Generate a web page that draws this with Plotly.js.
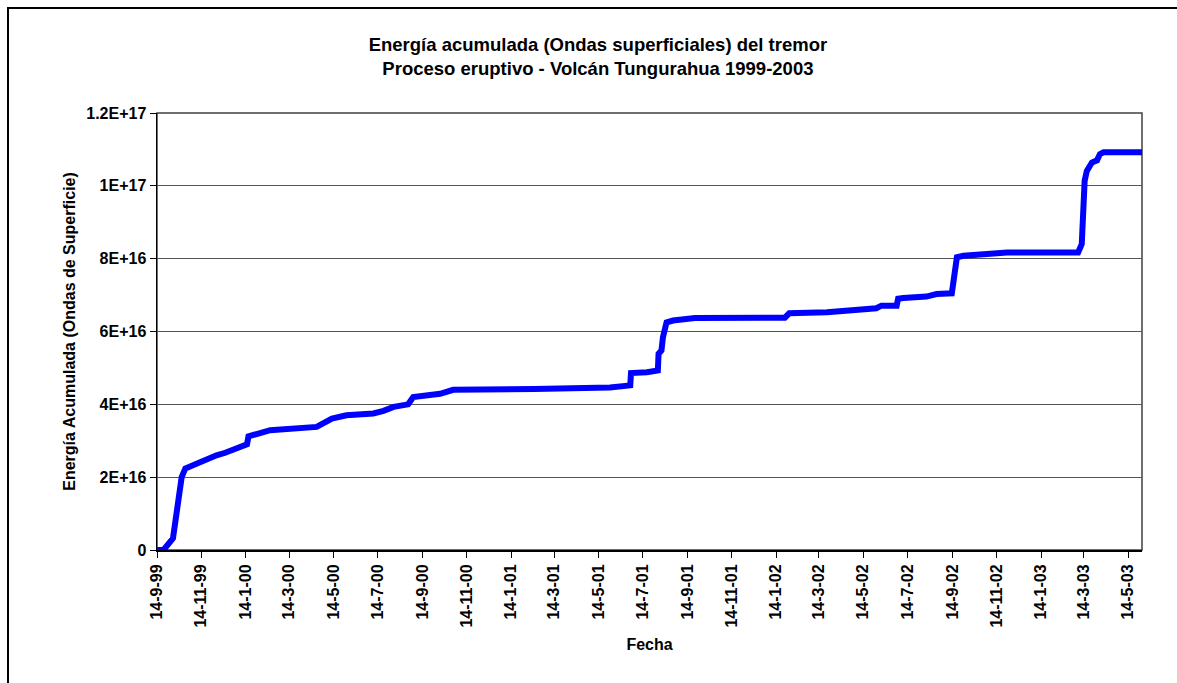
<!DOCTYPE html>
<html>
<head>
<meta charset="utf-8">
<script src="https://cdn.plot.ly/plotly-3.0.1.min.js"></script>
<style>
html,body{margin:0;padding:0;background:#fff;overflow:hidden;}
#wrap{position:relative;width:1177px;height:683px;overflow:hidden;}
#chart{width:1177px;height:683px;}
.fl{position:absolute;background:#000;pointer-events:none;}
#ftop{left:7px;top:7px;width:1170px;height:2px;}
#fleft{left:7px;top:7px;width:2px;height:676px;}
</style>
</head>
<body>
<div id="wrap"><div id="chart"></div><div class="fl" id="ftop"></div><div class="fl" id="fleft"></div></div>
<script>
// Fecha (date) of each reading
const fechas = [
  '1999-09-14','1999-09-23','1999-10-06','1999-10-18','1999-10-23','1999-11-12',
  '1999-12-05','1999-12-17','2000-01-16','2000-01-18','2000-02-17','2000-04-21',
  '2000-04-30','2000-05-12','2000-06-01','2000-07-08','2000-07-22','2000-08-05',
  '2000-08-25','2000-09-01','2000-10-08','2000-10-17','2000-10-26','2001-02-15',
  '2001-04-10','2001-05-30','2001-06-27','2001-06-28','2001-07-20','2001-08-04',
  '2001-08-05','2001-08-09','2001-08-11','2001-08-16','2001-08-25','2001-09-13',
  '2001-09-24','2002-01-26','2002-02-01','2002-03-25','2002-04-30','2002-06-01',
  '2002-06-08','2002-06-29','2002-07-01','2002-07-08','2002-08-09','2002-08-23',
  '2002-09-13','2002-09-16','2002-09-20','2002-09-29','2002-11-14','2002-11-28',
  '2003-03-06','2003-03-11','2003-03-15','2003-03-18','2003-03-25','2003-04-01',
  '2003-04-05','2003-04-10','2003-06-02'
];
// Energía acumulada (ondas de superficie)
const energia = [
  0, 0, 0.32e16, 2.0e16, 2.24e16, 2.42e16,
  2.60e16, 2.67e16, 2.90e16, 3.12e16, 3.29e16, 3.38e16,
  3.47e16, 3.61e16, 3.70e16, 3.75e16, 3.82e16, 3.93e16,
  4.00e16, 4.20e16, 4.29e16, 4.36e16, 4.40e16, 4.42e16,
  4.43e16, 4.46e16, 4.52e16, 4.86e16, 4.88e16, 4.93e16,
  5.39e16, 5.48e16, 5.84e16, 6.25e16, 6.30e16, 6.32e16,
  6.37e16, 6.38e16, 6.50e16, 6.53e16, 6.58e16, 6.64e16,
  6.71e16, 6.71e16, 6.90e16, 6.92e16, 6.96e16, 7.03e16,
  7.05e16, 7.58e16, 8.04e16, 8.08e16, 8.13e16, 8.17e16,
  8.17e16, 8.40e16, 10.14e16, 10.41e16, 10.64e16, 10.70e16,
  10.87e16, 10.92e16, 10.92e16
];
// Y axis ticks
const yTickVals = [0, 2e16, 4e16, 6e16, 8e16, 10e16, 12e16];
const yTickText = ['0', '2E+16', '4E+16', '6E+16', '8E+16', '1E+17', '1.2E+17'];
// X axis ticks
const xTickVals = [
  '1999-09-14','1999-11-14','2000-01-14','2000-03-14','2000-05-14','2000-07-14',
  '2000-09-14','2000-11-14','2001-01-14','2001-03-14','2001-05-14','2001-07-14',
  '2001-09-14','2001-11-14','2002-01-14','2002-03-14','2002-05-14','2002-07-14',
  '2002-09-14','2002-11-14','2003-01-14','2003-03-14','2003-05-14'
];
const xTickText = [
  '14-9-99','14-11-99','14-1-00','14-3-00','14-5-00','14-7-00',
  '14-9-00','14-11-00','14-1-01','14-3-01','14-5-01','14-7-01',
  '14-9-01','14-11-01','14-1-02','14-3-02','14-5-02','14-7-02',
  '14-9-02','14-11-02','14-1-03','14-3-03','14-5-03'
];

const FONT = 'Arial, "Liberation Sans", sans-serif';
const bold = s => '<b>' + s + '</b>';

const trace = {
  x: fechas,
  y: energia,
  type: 'scatter',
  mode: 'lines',
  line: {color: '#0000FF', width: 6},
  hoverinfo: 'x+y'
};

const layout = {
  width: 1177,
  height: 683,
  margin: {l: 157, r: 35, t: 113, b: 133},
  paper_bgcolor: '#ffffff',
  plot_bgcolor: '#ffffff',
  showlegend: false,
  font: {family: FONT, color: '#000', size: 16},
  title: {
    text: '<b>Energía acumulada (Ondas superficiales) del tremor</b><br><b>Proceso eruptivo - Volcán Tungurahua 1999-2003</b>',
    font: {family: FONT, size: 18.5, color: '#000'},
    x: 0.508, xref: 'container', xanchor: 'center',
    y: 0.925, yref: 'container', yanchor: 'top'
  },
  xaxis: {
    type: 'date',
    range: ['1999-09-14', '2003-06-02'],
    tickvals: xTickVals,
    ticktext: xTickText.map(bold),
    tickangle: -90,
    ticks: 'outside',
    ticklen: 6,
    tickwidth: 1,
    tickcolor: '#000',
    tickfont: {family: FONT, size: 16, color: '#000'},
    showgrid: false,
    showline: true,
    linecolor: '#000',
    linewidth: 2,
    zeroline: false,
    title: {text: '<b>Fecha</b>', font: {family: FONT, size: 16, color: '#000'}, standoff: 12}
  },
  yaxis: {
    range: [0, 1.2e17],
    tickvals: yTickVals,
    ticktext: yTickText.map(bold),
    ticks: 'outside',
    ticklen: 6,
    tickwidth: 1,
    tickcolor: '#000',
    tickfont: {family: FONT, size: 16, color: '#000'},
    showgrid: true,
    gridcolor: '#555555',
    gridwidth: 1,
    showline: true,
    linecolor: '#000',
    linewidth: 1.5,
    zeroline: false,
    title: {text: '<b>Energía Acumulada (Ondas de Superficie)</b>', font: {family: FONT, size: 16, color: '#000'}, standoff: 6}
  },
  shapes: [
    {type: 'rect', xref: 'paper', yref: 'paper', x0: 0, x1: 1, y0: 0, y1: 1,
     line: {color: '#404040', width: 1.5}, fillcolor: 'rgba(0,0,0,0)', layer: 'below'}
  ]
};

Plotly.newPlot('chart', [trace], layout, {displayModeBar: false, staticPlot: true});
</script>
</body>
</html>
